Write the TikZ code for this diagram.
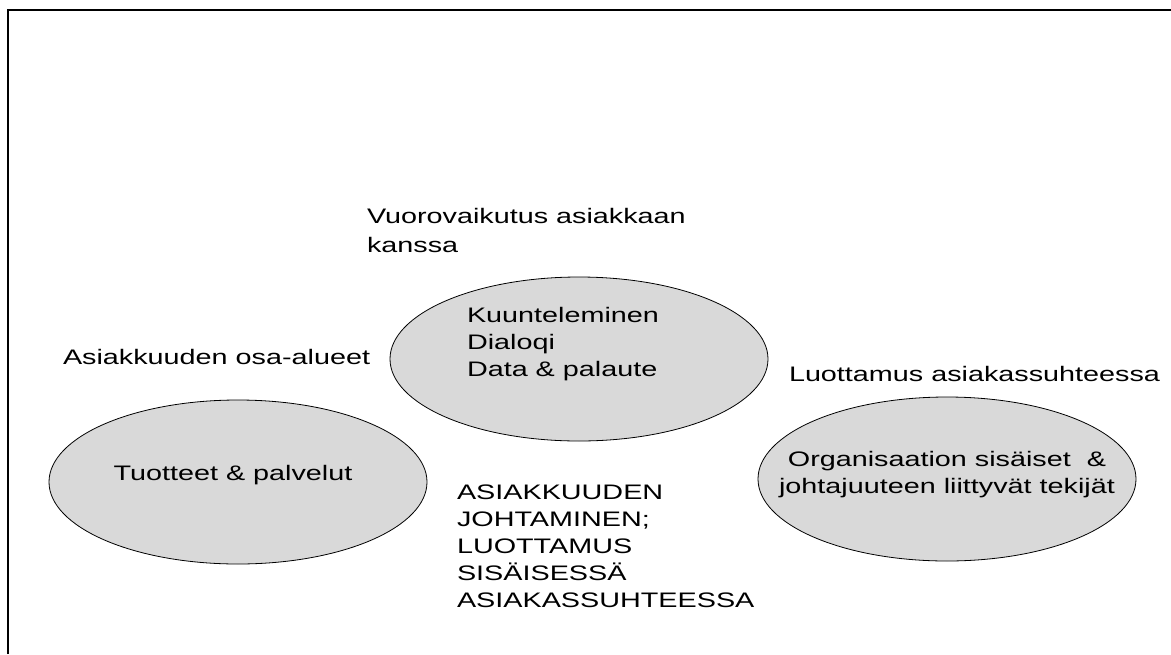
\documentclass[tikz,border=0pt]{standalone}
\usepackage{fontspec}
\setmainfont[FakeStretch=1.37]{Liberation Sans}
\usetikzlibrary{shapes.geometric}
\definecolor{ovalfill}{HTML}{D9D9D9}
\begin{document}
\begin{tikzpicture}[x=1pt,y=-1pt,
  oval/.style={ellipse, draw=black, line width=0.8pt, fill=ovalfill, inner sep=0pt,
               minimum width=378pt, minimum height=164pt},
  txt/.style={font=\fontsize{21}{27}\selectfont, inner sep=0pt, outer sep=0pt},
  frameline/.style={line width=2pt}]
\useasboundingbox (0,0) rectangle (1171,654);
% open frame: left and top edges only
\coordinate (fbl) at (8,654);
\coordinate (ftl) at (8,10);
\coordinate (ftr) at (1171,10);
\draw[frameline] (fbl) -- (ftl) -- (ftr);

% the three areas
\node[oval] (prod) at (238,482) {};
\node[oval] (dial) at (579,359) {};
\node[oval] (org) at (947,479) {};

% texts
\node[txt, font=\fontsize{21}{29}\selectfont, anchor=north west, align=left] (inter) at (367,208) {Vuorovaikutus asiakkaan\\kanssa};
\node[txt, anchor=north west, align=left] (dialtxt) at (467,307) {Kuunteleminen\\Dialoqi\\Data \& palaute};
\node[txt, anchor=base west] (areas) at (63,364) {Asiakkuuden osa-alueet};
\node[txt, anchor=base west] (trust) at (789,381) {Luottamus asiakassuhteessa};
\node[txt, anchor=base] (prodtxt) at (233,480) {Tuotteet \& palvelut};
\node[txt, anchor=north, align=center] (orgtxt) at (947,451) {Organisaation sisäiset\ \ \&\\johtajuuteen liittyvät tekijät};
\node[txt, anchor=north west, align=left] (lead) at (457,485) {ASIAKKUUDEN\\JOHTAMINEN;\\LUOTTAMUS\\SISÄISESSÄ\\ASIAKASSUHTEESSA};
\end{tikzpicture}
\end{document}
